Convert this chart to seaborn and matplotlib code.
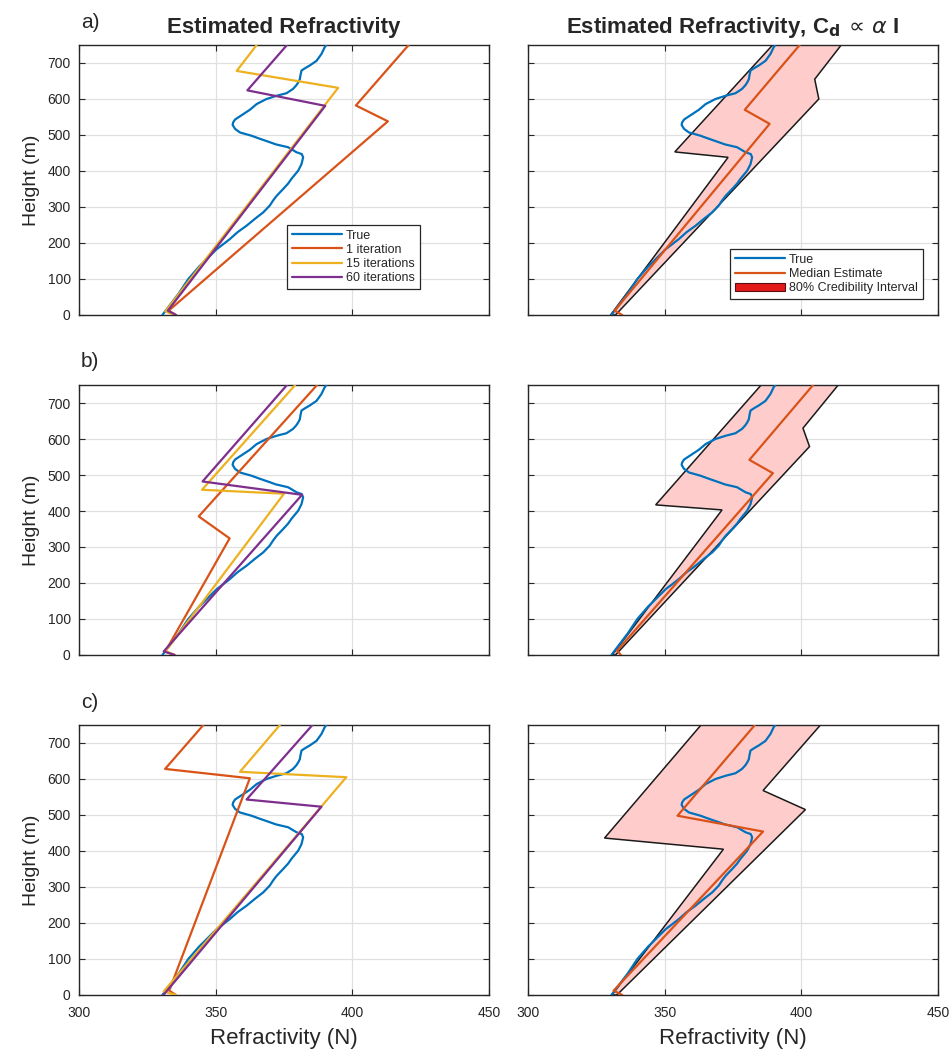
import numpy as np
import matplotlib
matplotlib.use("Agg")
import matplotlib.pyplot as plt
import seaborn as sns
from matplotlib.lines import Line2D
from matplotlib.patches import Patch

# ---------------- data: refractivity N versus height (m) ----------------
true_n = [330.5, 333.0, 336.5, 340.0, 344.0, 345.5, 348.0, 350.4, 353.0, 355.2,
          358.0, 361.3, 364.5, 367.4, 369.8, 371.0, 372.3, 374.7, 376.5, 377.7,
          380.2, 381.4, 382.0, 381.5, 379.6, 376.5, 372.0, 369.8, 366.0, 363.1,
          358.9, 357.1, 356.2, 356.4, 357.1, 360.1, 362.5, 365.0, 368.6, 372.3,
          375.9, 378.3, 379.5, 380.2, 380.8, 381.0, 381.4, 382.6, 384.4, 386.9,
          388.7, 389.9, 390.5]
true_h = [0, 25, 60, 100, 135, 146, 165, 183, 198, 211,
          230, 248, 268, 285, 304, 318, 331, 350, 365, 378,
          401, 419, 438, 447, 452, 466, 474, 480, 490, 498,
          507, 517, 528, 535, 543, 558, 570, 586, 600, 609,
          616, 628, 638, 646, 655, 665, 679, 685, 693, 706,
          725, 744, 750]

# case a)
iter1_a_n = [335.5, 332.8, 413.0, 401.3, 420.6]
iter1_a_h = [0, 12, 538, 582, 750]
iter15_a_n = [335.0, 331.6, 394.8, 357.7, 365.0]
iter15_a_h = [0, 10, 631, 678, 750]
iter60_a_n = [335.5, 332.5, 390.1, 361.6, 376.1]
iter60_a_h = [0, 12, 581, 624, 750]
median_a_n = [334.5, 331.7, 388.4, 379.3, 399.4]
median_a_h = [0, 12, 531, 570, 750]
lower_a_n = [330.2, 373.2, 353.7, 389.5]
lower_a_h = [0, 438, 453, 750]
upper_a_n = [332.0, 406.4, 404.9, 414.6]
upper_a_h = [0, 600, 655, 750]

# case b)
iter1_b_n = [335.0, 331.6, 355.1, 343.8, 387.1]
iter1_b_h = [0, 10, 324, 385, 750]
iter15_b_n = [335.0, 331.6, 375.0, 345.0, 379.1]
iter15_b_h = [0, 10, 448, 459, 750]
iter60_b_n = [335.0, 331.0, 381.6, 345.2, 376.1]
iter60_b_h = [0, 10, 445, 482, 750]
median_b_n = [334.0, 332.6, 389.6, 381.0, 404.3]
median_b_h = [0, 12, 505, 542, 750]
lower_b_n = [330.8, 371.0, 346.7, 385.3]
lower_b_h = [0, 403, 417, 750]
upper_b_n = [332.0, 403.0, 400.6, 413.5]
upper_b_h = [0, 579, 630, 750]

# case c)
iter1_c_n = [335.5, 333.0, 362.5, 331.5, 345.5]
iter1_c_h = [0, 12, 602, 628, 750]
iter15_c_n = [335.5, 331.0, 397.8, 358.9, 373.5]
iter15_c_h = [0, 10, 605, 620, 750]
iter60_c_n = [330.9, 388.7, 361.3, 385.4]
iter60_c_h = [0, 523, 543, 750]
median_c_n = [334.5, 331.3, 386.0, 354.7, 383.0]
median_c_h = [0, 12, 454, 498, 750]
lower_c_n = [330.7, 371.5, 328.0, 363.3]
lower_c_h = [0, 405, 436, 750]
upper_c_n = [332.5, 401.5, 386.0, 407.0]
upper_c_h = [0, 515, 568, 750]

x_ticks = [300, 350, 400, 450]
y_ticks = [0, 100, 200, 300, 400, 500, 600, 700]
panel_letters = ["a)", "b)", "c)"]
left_labels = ["True", "1 iteration", "15 iterations", "60 iterations"]
right_labels = ["True", "Median Estimate", "80% Credibility Interval"]

# ---------------- styling ----------------
C_TRUE = "#0072BD"
C_IT1 = "#D95319"
C_IT15 = "#EDB120"
C_IT60 = "#7E2F8E"
BAND_FACE = (1.0, 0.80, 0.80)
LW = 1.6

sns.set_theme(style="whitegrid")
plt.rcParams["font.family"] = ["Liberation Sans", "DejaVu Sans"]
plt.rcParams["mathtext.fontset"] = "dejavusans"

W, H = 953, 1061
fig = plt.figure(figsize=(W / 100, H / 100), dpi=100)
fig.patch.set_facecolor("white")

col_left = [79, 528]
col_width = 410
row_tops = [45, 385, 725]
row_height = 270


def make_axes(col, row):
    x0 = col_left[col] / W
    y0 = 1 - (row_tops[row] + row_height) / H
    return fig.add_axes([x0, y0, col_width / W, row_height / H])


def style_axes(ax, show_x, show_y):
    ax.set_facecolor("white")
    ax.set_xlim(300, 450)
    ax.set_ylim(0, 750)
    ax.set_xticks(x_ticks)
    ax.set_yticks(y_ticks)
    ax.grid(True, color="#e0e0e0", lw=0.9)
    ax.set_axisbelow(True)
    for s in ax.spines.values():
        s.set_visible(True)
        s.set_color("#262626")
        s.set_linewidth(1.0)
    ax.tick_params(direction="in", length=4, width=0.8, color="#262626",
                   top=True, right=True, bottom=True, left=True,
                   labelsize=10, pad=6, labelcolor="#262626")
    ax.tick_params(axis="x", pad=8)
    if not show_x:
        ax.tick_params(labelbottom=False)
    if not show_y:
        ax.tick_params(labelleft=False)
    ax.set_xlabel("")
    ax.set_ylabel("")


def profile(ax, n, h, color, z=3):
    sns.lineplot(x=n, y=h, sort=False, estimator=None, color=color,
                 lw=LW, ax=ax, legend=False, zorder=z)


def boxed_legend(ax, handles, labels, anchor):
    leg = ax.legend(handles, labels, loc="lower right",
                    bbox_to_anchor=anchor, fontsize=9,
                    handlelength=4.0, handletextpad=0.3,
                    labelspacing=0.18, borderpad=0.4,
                    frameon=True, fancybox=False, framealpha=1)
    leg.get_frame().set_edgecolor("#262626")
    leg.get_frame().set_linewidth(0.9)
    return leg


left_sets = [
    (iter1_a_n, iter1_a_h, iter15_a_n, iter15_a_h, iter60_a_n, iter60_a_h),
    (iter1_b_n, iter1_b_h, iter15_b_n, iter15_b_h, iter60_b_n, iter60_b_h),
    (iter1_c_n, iter1_c_h, iter15_c_n, iter15_c_h, iter60_c_n, iter60_c_h),
]
right_sets = [
    (median_a_n, median_a_h, lower_a_n, lower_a_h, upper_a_n, upper_a_h),
    (median_b_n, median_b_h, lower_b_n, lower_b_h, upper_b_n, upper_b_h),
    (median_c_n, median_c_h, lower_c_n, lower_c_h, upper_c_n, upper_c_h),
]

for row in range(3):
    bottom = row == 2
    # left column: iterative estimates
    axl = make_axes(0, row)
    i1n, i1h, i15n, i15h, i60n, i60h = left_sets[row]
    profile(axl, true_n, true_h, C_TRUE)
    profile(axl, i1n, i1h, C_IT1)
    profile(axl, i15n, i15h, C_IT15)
    profile(axl, i60n, i60h, C_IT60)
    style_axes(axl, bottom, True)
    axl.set_ylabel("Height (m)", fontsize=14, labelpad=5)

    # right column: median estimate with credibility band
    axr = make_axes(1, row)
    mn, mh, ln, lh, un, uh = right_sets[row]
    poly_n = np.r_[ln, un[::-1]]
    poly_h = np.r_[lh, uh[::-1]]
    axr.fill(poly_n, poly_h, facecolor=BAND_FACE, edgecolor="#1a1a1a",
             lw=1.1, zorder=2)
    profile(axr, true_n, true_h, C_TRUE)
    profile(axr, mn, mh, C_IT1, z=4)
    style_axes(axr, bottom, False)

    if bottom:
        axl.set_xlabel("Refractivity (N)", fontsize=16, labelpad=6)
        axr.set_xlabel("Refractivity (N)", fontsize=16, labelpad=6)

    fig.text(81 / W, 1 - (row_tops[row] - 23) / H, panel_letters[row],
             fontsize=15, va="center", ha="left")

    if row == 0:
        axl.set_title("Estimated Refractivity", fontsize=16,
                      fontweight="bold", pad=9)
        axr.set_title(r"Estimated Refractivity, C$_{\mathbf{d}}\,\propto\,\alpha$ I",
                      fontsize=16, fontweight="bold", pad=9)

        h_left = [Line2D([], [], color=c, lw=LW)
                  for c in (C_TRUE, C_IT1, C_IT15, C_IT60)]
        boxed_legend(axl, h_left, left_labels, (0.847, 0.072))

        h_right = [Line2D([], [], color=C_TRUE, lw=LW),
                   Line2D([], [], color=C_IT1, lw=LW),
                   Patch(facecolor="#E41A1A", edgecolor="#5a1010", lw=0.8)]
        boxed_legend(axr, h_right, right_labels, (0.978, 0.035))

fig.savefig("out.png", dpi=100, facecolor="white")
